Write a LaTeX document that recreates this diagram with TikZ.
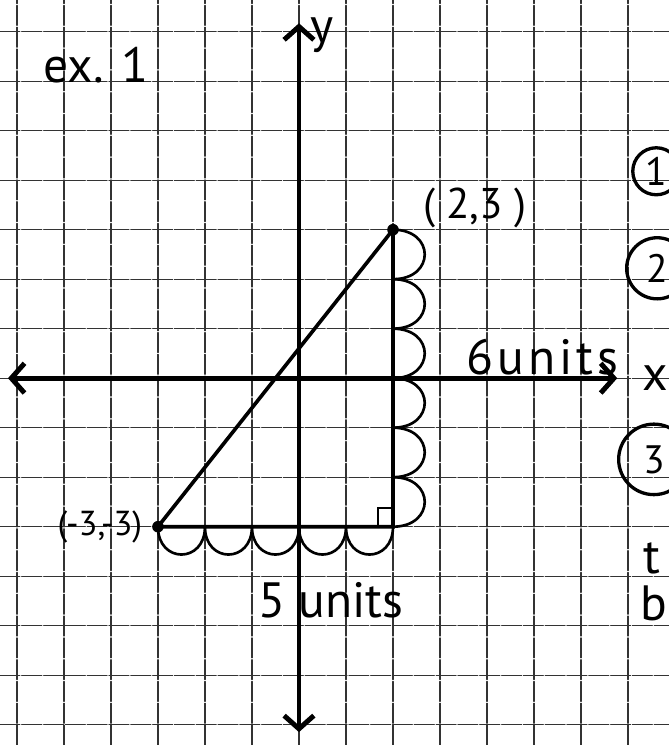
\documentclass[tikz,border=0pt]{standalone}
\usepackage{fontspec}
\setmainfont{PT Sans}
\usetikzlibrary{positioning, arrows.meta}

\begin{document}
\begin{tikzpicture}[x=1cm, y=1.053cm, line cap=round,
    gridline/.style={black!80, line width=0.8pt, dash pattern=on 12pt off 1.2pt},
    axis/.style={line width=3pt, {Straight Barb[length=8pt,width=18pt]}-{Straight Barb[length=8pt,width=18pt]}},
    side/.style={line width=2.2pt},
    bump/.style={line width=1.6pt},
    dot/.style={circle, fill, inner sep=0pt, minimum size=7pt},
    hand/.style={font=\fontsize{30}{30}\selectfont, inner sep=0pt},
    num/.style={circle, draw, line width=2pt, inner sep=0pt, font=\fontsize{24}{24}\selectfont}]

\useasboundingbox (-6.36,-7.41) rectangle (7.87,7.64);
\fill[white] (-6.36,-7.41) rectangle (7.87,7.64);

% grid paper
\foreach \i in {-6,...,7}
  \draw[gridline] (\i,-7.41) -- (\i,7.64);
\foreach \j in {-7,...,7}
  \draw[gridline] (-6.36,\j) -- (7.87,\j);

% axes
\coordinate (xl) at (-6.19,0);
\coordinate (xr) at (6.77,0);
\coordinate (yt) at (0,7.17);
\coordinate (yb) at (0,-7.15);
\draw[axis] (xl) -- (xr);
\draw[axis] (yb) -- (yt);

% triangle
\coordinate (p23) at (2,3);
\coordinate (m33) at (-3,-3);
\coordinate (rt) at (2,-3);
\draw[side] (m33) -- (p23) -- (rt) -- cycle;
\draw[line width=1.6pt] ([xshift=-0.32cm]rt) |- ([yshift=0.4cm]rt);

% counting the units
\foreach \k in {3,...,-2}
  \draw[bump] (2,\k) .. controls +(0.9,0) and +(0.9,0) .. +(0,-1);
\foreach \k in {-3,...,1}
  \draw[bump] (\k,-3) .. controls +(0,-0.75) and +(0,-0.75) .. +(1,0);

\node[dot] (d1) at (p23) {};
\node[dot] (d2) at (m33) {};

% labels
\node[hand] (ex) at (-4.32,6.32) {ex. 1};
\node[hand] (ylab) at (0.49,6.93) {y};
\node[hand] (xlab) at (7.57,0) {x};
\node[hand, font=\fontsize{26}{26}\selectfont] (l23) at (3.74,3.43) {( 2,3 )};
\node[hand, font=\fontsize{21}{21}\selectfont, left=0.2cm of d2] (l33) {(-3,-3)};
\node[hand, anchor=base west] (six) at (3.55,0.08) {6\kern2.5pt u\kern2.5pt n\kern2.5pt i\kern2.5pt t\kern2.5pt s};
\node[hand, anchor=west] (five) at (-0.87,-4.48) {5 units};

% notes cut off at the edge
\node[num, minimum size=1cm] (n1) at (7.6,4.18) {1};
\node[num, minimum size=1.3cm] (n2) at (7.62,2.22) {2};
\node[num, minimum size=1.5cm] (n3) at (7.55,-1.64) {3};
\node[hand] (t) at (7.51,-3.64) {t};
\node[hand] (b) at (7.55,-4.55) {b};
\end{tikzpicture}
\end{document}
